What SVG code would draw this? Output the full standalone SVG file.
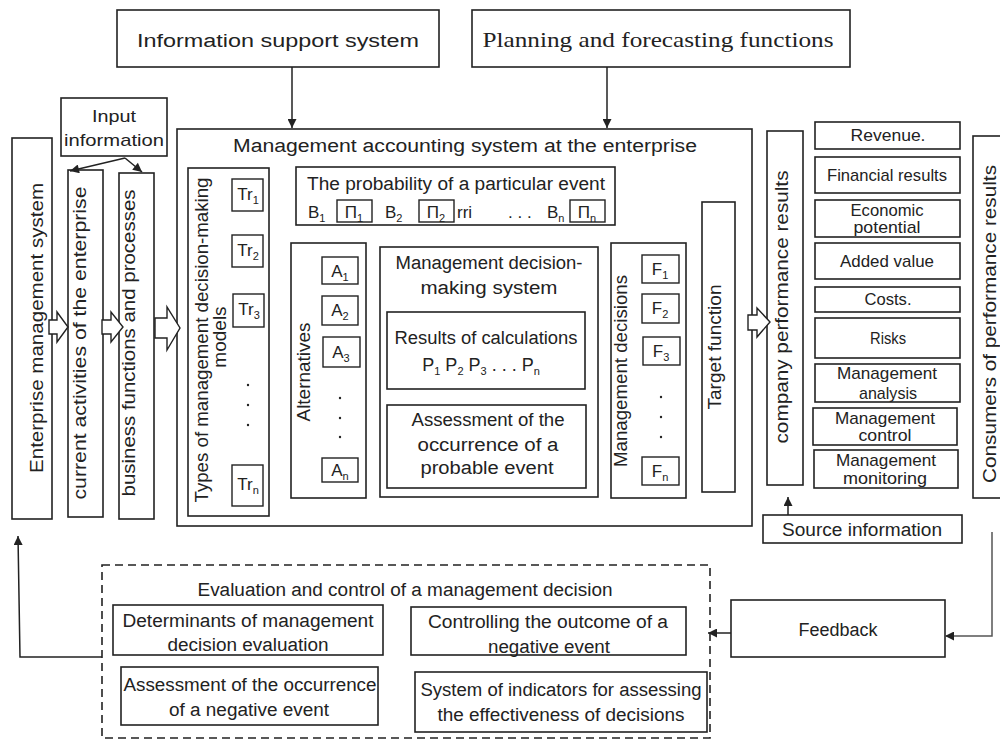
<svg xmlns="http://www.w3.org/2000/svg" width="1000" height="740" viewBox="0 0 1000 740">
<defs>
<style>
.b{fill:#fff;stroke:#222;stroke-width:1.6}
.n{fill:none;stroke:#222;stroke-width:1.6}
.bl{fill:#fff;stroke:#222;stroke-width:1.4}
.c{fill:none;stroke:#222;stroke-width:1.5}
.t{font-family:"Liberation Sans",Arial,sans-serif;font-size:18px;fill:#222;text-anchor:middle}
.s{font-family:"Liberation Sans",Arial,sans-serif;font-size:17px;fill:#222;text-anchor:middle}
.l{font-family:"Liberation Sans",Arial,sans-serif;font-size:17px;fill:#222}
.v{font-family:"Liberation Sans",Arial,sans-serif;font-size:19px;fill:#222;text-anchor:middle}
.sub{font-size:11px}
</style>
<marker id="ah" viewBox="0 0 10 10" refX="10" refY="5" markerWidth="11" markerHeight="9" orient="auto" markerUnits="userSpaceOnUse"><path d="M0,0 L10,5 L0,10 z" fill="#222"/></marker>
</defs>
<rect width="1000" height="740" fill="#fff"/>

<g id="info-support">
<rect class="b" x="117" y="10" width="322" height="57"/>
<text class="t" x="278" y="47" font-size="21" textLength="282" lengthAdjust="spacingAndGlyphs">Information support system</text>
</g>
<g id="planning">
<rect class="b" x="472" y="10" width="378" height="57"/>
<text x="658" y="47" font-family="Liberation Serif,Times New Roman,serif" font-size="22" fill="#222" text-anchor="middle" textLength="351" lengthAdjust="spacingAndGlyphs">Planning and forecasting functions</text>
</g>
<g id="input-info">
<rect class="b" x="61" y="98" width="106" height="58"/>
<text class="s" x="114" y="122" font-size="18" textLength="44" lengthAdjust="spacingAndGlyphs">Input</text>
<text class="s" x="114" y="146" font-size="18" textLength="100" lengthAdjust="spacingAndGlyphs">information</text>
</g>
<g id="enterprise-mgmt">
<rect class="b" x="12" y="138" width="40" height="381"/>
<text class="v" transform="translate(43,328) rotate(-90)" font-size="20" textLength="290" lengthAdjust="spacingAndGlyphs">Enterprise management system</text>
</g>
<g id="current-activities">
<rect class="b" x="68" y="170" width="35" height="347"/>
<text class="v" transform="translate(86,343) rotate(-90)" textLength="313" lengthAdjust="spacingAndGlyphs">current activities of the enterprise</text>
</g>
<g id="business-functions">
<rect class="b" x="119" y="173" width="35" height="346"/>
<text class="v" transform="translate(135,343) rotate(-90)" textLength="307" lengthAdjust="spacingAndGlyphs">business functions and processes</text>
</g>

<g id="mas">
<rect class="b" x="177" y="129" width="575" height="397"/>
<text class="t" x="465" y="152" font-size="21" textLength="464" lengthAdjust="spacingAndGlyphs">Management accounting system at the enterprise</text>
</g>
<g id="types">
<rect class="b" x="188" y="168" width="81" height="348"/>
<text class="v" transform="translate(208,340) rotate(-90)" textLength="325" lengthAdjust="spacingAndGlyphs">Types of management decision-making</text>
<text class="v" transform="translate(226,337) rotate(-90)">models</text>
<rect class="bl" x="232" y="179" width="31" height="32"/>
<text class="s" x="248" y="200" font-size="16">Tr<tspan class="sub" dy="4">1</tspan></text>
<rect class="bl" x="232" y="235" width="31" height="32"/>
<text class="s" x="248" y="256" font-size="16">Tr<tspan class="sub" dy="4">2</tspan></text>
<rect class="bl" x="233" y="294" width="31" height="33"/>
<text class="s" x="249" y="315" font-size="16">Tr<tspan class="sub" dy="4">3</tspan></text>
<circle cx="248" cy="385" r="1.2" fill="#222"/>
<circle cx="248" cy="405" r="1.2" fill="#222"/>
<circle cx="248" cy="425" r="1.2" fill="#222"/>
<rect class="bl" x="232" y="465" width="31" height="41"/>
<text class="s" x="248" y="490" font-size="16">Tr<tspan class="sub" dy="4">n</tspan></text>
</g>
<g id="probability">
<rect class="b" x="296" y="167" width="319" height="58"/>
<text class="t" x="456" y="190" textLength="298" lengthAdjust="spacingAndGlyphs">The probability of a particular event</text>
<text class="l" x="308" y="218">B<tspan class="sub" dy="4">1</tspan></text>
<rect class="bl" x="337" y="200" width="35" height="22"/>
<text class="s" x="354" y="218">Π<tspan class="sub" dy="4">1</tspan></text>
<text class="l" x="385" y="218">B<tspan class="sub" dy="4">2</tspan></text>
<rect class="bl" x="419" y="200" width="35" height="22"/>
<text class="s" x="436" y="218">Π<tspan class="sub" dy="4">2</tspan></text>
<text class="l" x="457" y="218">rri</text>
<text class="l" x="508" y="218">. . .</text>
<text class="l" x="547" y="218">B<tspan class="sub" dy="4">n</tspan></text>
<rect class="bl" x="570" y="200" width="35" height="22"/>
<text class="s" x="587" y="218">Π<tspan class="sub" dy="4">n</tspan></text>
</g>
<g id="alternatives">
<rect class="b" x="291" y="243" width="75" height="255"/>
<text class="v" transform="translate(310,372) rotate(-90)" textLength="99" lengthAdjust="spacingAndGlyphs">Alternatives</text>
<rect class="bl" x="322" y="257" width="36" height="27"/>
<text class="s" x="340" y="277">A<tspan class="sub" dy="4">1</tspan></text>
<rect class="bl" x="322" y="296" width="36" height="29"/>
<text class="s" x="340" y="316">A<tspan class="sub" dy="4">2</tspan></text>
<rect class="bl" x="323" y="337" width="37" height="30"/>
<text class="s" x="341" y="358">A<tspan class="sub" dy="4">3</tspan></text>
<circle cx="340" cy="398" r="1.2" fill="#222"/>
<circle cx="340" cy="418" r="1.2" fill="#222"/>
<circle cx="340" cy="437" r="1.2" fill="#222"/>
<rect class="bl" x="322" y="458" width="36" height="24"/>
<text class="s" x="340" y="476">A<tspan class="sub" dy="4">n</tspan></text>
</g>
<g id="mdms">
<rect class="b" x="380" y="247" width="218" height="250"/>
<text class="t" x="489" y="269" textLength="187" lengthAdjust="spacingAndGlyphs">Management decision-</text>
<text class="t" x="489" y="294" textLength="137" lengthAdjust="spacingAndGlyphs">making system</text>
</g>
<g id="results">
<rect class="b" x="387" y="312" width="198" height="77"/>
<text class="t" x="486" y="344" textLength="183" lengthAdjust="spacingAndGlyphs">Results of calculations</text>
<text class="t" x="481" y="371">P<tspan class="sub" dy="4">1</tspan><tspan dy="-4"> P</tspan><tspan class="sub" dy="4">2</tspan><tspan dy="-4"> P</tspan><tspan class="sub" dy="4">3</tspan><tspan dy="-4"> . . .  P</tspan><tspan class="sub" dy="4">n</tspan></text>
</g>
<g id="assessment-probable">
<rect class="b" x="387" y="405" width="199" height="83"/>
<text class="t" x="488" y="426" textLength="153" lengthAdjust="spacingAndGlyphs">Assessment of the</text>
<text class="t" x="488" y="451" textLength="141" lengthAdjust="spacingAndGlyphs">occurrence of a</text>
<text class="t" x="487" y="474" textLength="133" lengthAdjust="spacingAndGlyphs">probable event</text>
</g>
<g id="mgmt-decisions">
<rect class="b" x="611" y="243" width="75" height="255"/>
<text class="v" transform="translate(627,371) rotate(-90)" textLength="192" lengthAdjust="spacingAndGlyphs">Management decisions</text>
<rect class="bl" x="642" y="255" width="37" height="28"/>
<text class="s" x="660" y="275">F<tspan class="sub" dy="4">1</tspan></text>
<rect class="bl" x="642" y="294" width="37" height="29"/>
<text class="s" x="660" y="314">F<tspan class="sub" dy="4">2</tspan></text>
<rect class="bl" x="643" y="337" width="37" height="28"/>
<text class="s" x="661" y="357">F<tspan class="sub" dy="4">3</tspan></text>
<circle cx="661" cy="397" r="1.2" fill="#222"/>
<circle cx="661" cy="417" r="1.2" fill="#222"/>
<circle cx="661" cy="437" r="1.2" fill="#222"/>
<rect class="bl" x="642" y="457" width="37" height="28"/>
<text class="s" x="660" y="477">F<tspan class="sub" dy="4">n</tspan></text>
</g>
<g id="target-function">
<rect class="b" x="702" y="202" width="33" height="290"/>
<text class="v" transform="translate(721,347) rotate(-90)" textLength="125" lengthAdjust="spacingAndGlyphs">Target function</text>
</g>
<g id="company-results">
<rect class="b" x="767" y="131" width="36" height="354"/>
<text class="v" transform="translate(788,307) rotate(-90)" textLength="273" lengthAdjust="spacingAndGlyphs">company performance results</text>
</g>
<g id="revenue"><rect class="b" x="815" y="122" width="145" height="27"/><text class="s" x="888" y="141" textLength="75" lengthAdjust="spacingAndGlyphs">Revenue.</text></g>
<g id="financial"><rect class="b" x="815" y="157" width="145" height="36"/><text class="s" x="887" y="181" textLength="120" lengthAdjust="spacingAndGlyphs">Financial results</text></g>
<g id="economic"><rect class="b" x="815" y="200" width="145" height="37"/><text class="s" x="887" y="216" textLength="73" lengthAdjust="spacingAndGlyphs">Economic</text><text class="s" x="887" y="233" textLength="67" lengthAdjust="spacingAndGlyphs">potential</text></g>
<g id="added-value"><rect class="b" x="815" y="243" width="145" height="36"/><text class="s" x="887" y="267" textLength="94" lengthAdjust="spacingAndGlyphs">Added value</text></g>
<g id="costs"><rect class="b" x="815" y="287" width="145" height="25"/><text class="s" x="888" y="305" textLength="47" lengthAdjust="spacingAndGlyphs">Costs.</text></g>
<g id="risks"><rect class="b" x="815" y="318" width="145" height="40"/><text class="s" x="888" y="344" textLength="36" lengthAdjust="spacingAndGlyphs">Risks</text></g>
<g id="mgmt-analysis"><rect class="b" x="815" y="364" width="145" height="38"/><text class="s" x="887" y="379" textLength="100" lengthAdjust="spacingAndGlyphs">Management</text><text class="s" x="888" y="399" textLength="58" lengthAdjust="spacingAndGlyphs">analysis</text></g>
<g id="mgmt-control"><rect class="b" x="813" y="408" width="144" height="37"/><text class="s" x="885" y="424" textLength="100" lengthAdjust="spacingAndGlyphs">Management</text><text class="s" x="885" y="441" textLength="53" lengthAdjust="spacingAndGlyphs">control</text></g>
<g id="mgmt-monitoring"><rect class="b" x="814" y="450" width="144" height="38"/><text class="s" x="886" y="466" textLength="100" lengthAdjust="spacingAndGlyphs">Management</text><text class="s" x="885" y="484" textLength="84" lengthAdjust="spacingAndGlyphs">monitoring</text></g>
<g id="consumers">
<rect class="b" x="973" y="136" width="40" height="362"/>
<text class="v" transform="translate(996,324) rotate(-90)" textLength="318" lengthAdjust="spacingAndGlyphs">Consumers of performance results</text>
</g>
<g id="source-info">
<rect class="b" x="763" y="515" width="199" height="28"/>
<text class="t" x="862" y="536" textLength="160" lengthAdjust="spacingAndGlyphs">Source information</text>
</g>
<g id="feedback">
<rect class="b" x="731" y="600" width="214" height="57"/>
<text class="t" x="838" y="636" textLength="79" lengthAdjust="spacingAndGlyphs">Feedback</text>
</g>
<g id="evaluation">
<rect x="102" y="565" width="608" height="173" fill="none" stroke="#222" stroke-width="1.6" stroke-dasharray="8 5"/>
<text class="t" x="405" y="596" textLength="415" lengthAdjust="spacingAndGlyphs">Evaluation and control of a management decision</text>
</g>
<g id="determinants">
<rect class="b" x="113" y="605" width="270" height="50"/>
<text class="t" x="248" y="627" font-size="19" textLength="251" lengthAdjust="spacingAndGlyphs">Determinants of management</text>
<text class="t" x="248" y="651" font-size="19" textLength="161" lengthAdjust="spacingAndGlyphs">decision evaluation</text>
</g>
<g id="assessment-negative">
<rect class="b" x="121" y="667" width="257" height="58"/>
<text class="t" x="250" y="691" font-size="19" textLength="253" lengthAdjust="spacingAndGlyphs">Assessment of the occurrence</text>
<text class="t" x="249" y="716" font-size="19" textLength="160" lengthAdjust="spacingAndGlyphs">of a negative event</text>
</g>
<g id="controlling">
<rect class="b" x="411" y="607" width="275" height="48"/>
<text class="t" x="548" y="628" font-size="19" textLength="240" lengthAdjust="spacingAndGlyphs">Controlling the outcome of a</text>
<text class="t" x="549" y="653" font-size="19" textLength="122" lengthAdjust="spacingAndGlyphs">negative event</text>
</g>
<g id="indicators">
<rect class="b" x="415" y="672" width="292" height="60"/>
<text class="t" x="561" y="696" font-size="19" textLength="281" lengthAdjust="spacingAndGlyphs">System of indicators for assessing</text>
<text class="t" x="561" y="721" font-size="19" textLength="247" lengthAdjust="spacingAndGlyphs">the effectiveness of decisions</text>
</g>

<g id="connectors">
<line class="c" x1="292" y1="67" x2="292" y2="128" marker-end="url(#ah)"/>
<line class="c" x1="607" y1="67" x2="607" y2="128" marker-end="url(#ah)"/>
<line class="c" x1="125" y1="158" x2="70" y2="171" marker-end="url(#ah)"/>
<line class="c" x1="125" y1="158" x2="142" y2="172" marker-end="url(#ah)"/>
<polygon class="bl" points="49,320 57,320 57,312 68,327 57,342 57,334 49,334"/>
<polygon class="bl" points="102,320 111,320 111,312 123,327 111,342 111,334 102,334"/>
<polygon class="bl" points="155,318 167,318 167,307 180,328 167,350 167,338 155,338"/>
<polygon class="bl" points="748,315 757,315 757,308 770,322 757,337 757,330 748,330"/>
<line class="c" x1="788" y1="515" x2="788" y2="497" marker-end="url(#ah)"/>
<polyline fill="none" stroke="#555" stroke-width="1.5" points="992,532 992,636 945,636" marker-end="url(#ah)"/>
<line class="c" x1="731" y1="633" x2="708" y2="633" marker-end="url(#ah)"/>
<polyline class="c" points="102,657 20,657 18,536" marker-end="url(#ah)"/>
</g>
</svg>
